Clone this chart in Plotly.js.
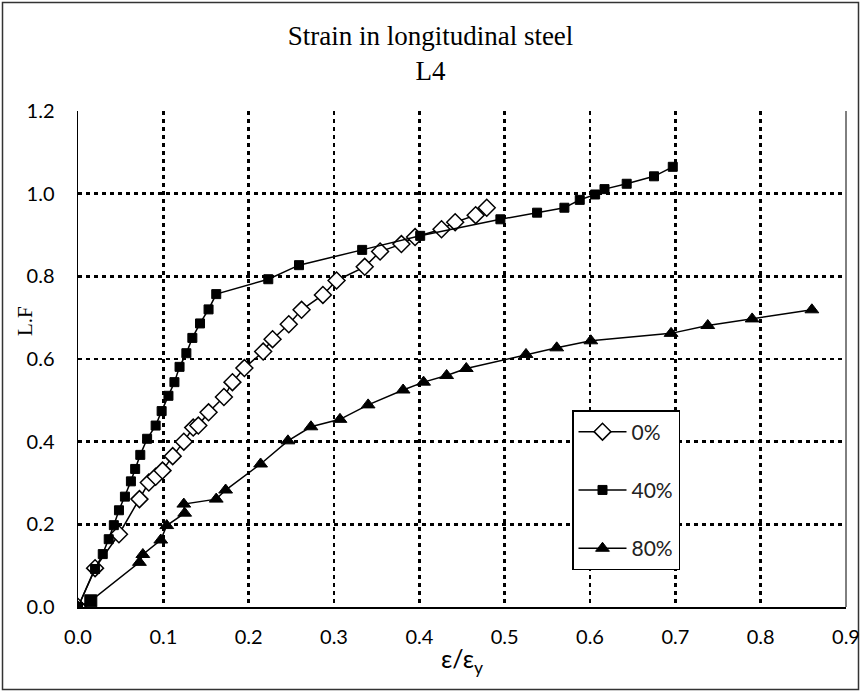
<!DOCTYPE html>
<html>
<head>
<meta charset="utf-8">
<script src="https://cdn.plot.ly/plotly-3.0.1.min.js"></script>
<style>html,body{margin:0;padding:0;background:#fff;}#chart{width:861px;height:692px;}</style>
</head>
<body>
<div id="chart"></div>
<script>
// ---- data ----
const seriesNames = ["0%", "40%", "80%"];

const x0 = [0, 0.020, 0.048, 0.072, 0.083, 0.091, 0.099, 0.111, 0.124, 0.135, 0.141, 0.153, 0.171, 0.181, 0.195, 0.217, 0.228, 0.247, 0.262, 0.287, 0.303, 0.336, 0.354, 0.379, 0.395, 0.426, 0.442, 0.466, 0.479];
const y0 = [0, 0.094, 0.176, 0.261, 0.301, 0.315, 0.330, 0.365, 0.400, 0.434, 0.439, 0.471, 0.508, 0.544, 0.578, 0.618, 0.648, 0.684, 0.719, 0.755, 0.790, 0.823, 0.860, 0.878, 0.895, 0.914, 0.931, 0.948, 0.966];

const x40 = [0, 0.020, 0.029, 0.036, 0.042, 0.048, 0.055, 0.062, 0.067, 0.073, 0.081, 0.091, 0.098, 0.106, 0.113, 0.119, 0.127, 0.134, 0.143, 0.153, 0.162, 0.223, 0.259, 0.333, 0.401, 0.495, 0.538, 0.570, 0.588, 0.606, 0.617, 0.643, 0.675, 0.697];
const y40 = [0, 0.092, 0.128, 0.164, 0.198, 0.234, 0.267, 0.304, 0.334, 0.368, 0.407, 0.439, 0.474, 0.511, 0.544, 0.581, 0.614, 0.651, 0.686, 0.720, 0.757, 0.793, 0.827, 0.864, 0.898, 0.938, 0.954, 0.966, 0.985, 0.998, 1.011, 1.024, 1.042, 1.065];

const x80 = [0, 0.015, 0.072, 0.076, 0.097, 0.104, 0.125, 0.124, 0.162, 0.173, 0.214, 0.246, 0.273, 0.307, 0.340, 0.381, 0.405, 0.432, 0.455, 0.525, 0.561, 0.601, 0.695, 0.738, 0.790, 0.860];
const y80 = [0, 0.015, 0.108, 0.127, 0.162, 0.197, 0.227, 0.249, 0.261, 0.283, 0.346, 0.402, 0.436, 0.454, 0.489, 0.525, 0.544, 0.560, 0.577, 0.611, 0.627, 0.644, 0.662, 0.681, 0.697, 0.719];

const xTicks = [0, 0.1, 0.2, 0.3, 0.4, 0.5, 0.6, 0.7, 0.8, 0.9];
const yTicks = [0, 0.2, 0.4, 0.6, 0.8, 1.0, 1.2];

const chartTitle = "Strain in longitudinal steel<br>L4";
const xTitle = "ε/ε<sub>y</sub>";
const yTitle = "L.F";

// ---- layout geometry ----
const W = 861, H = 692;
const M = {l: 78, r: 15, t: 111, b: 85};
const pw = W - M.l - M.r, ph = H - M.t - M.b;
const px = v => (v - M.l) / pw;
const py = v => (H - M.b - v) / ph;

const sans = "Lato, 'DejaVu Sans', sans-serif";
const serif = "'Liberation Serif', 'Times New Roman', serif";
const tickFont = {family: sans, size: 20, color: "#000"};
const lineStyle = {color: "#000", width: 1.5};

// 80% series: second point is drawn with a square in the source
const sym80 = x80.map((v, i) => i === 1 ? "square" : "triangle-up");

const traces = [
  {x: x0, y: y0, name: seriesNames[0], type: "scatter", mode: "lines+markers",
   line: lineStyle, legendgroup: "a",
   marker: {symbol: "diamond", size: 13, color: "#fff", opacity: 1, line: {color: "#000", width: 1.5}}},
  {x: x40, y: y40, name: seriesNames[1], type: "scatter", mode: "lines+markers",
   line: lineStyle, legendgroup: "b",
   marker: {symbol: "square", size: 9, color: "#000", opacity: 1, line: {color: "#000", width: 1}}},
  {x: x80, y: y80, name: seriesNames[2], type: "scatter", mode: "lines+markers",
   line: lineStyle, legendgroup: "c",
   marker: {symbol: sym80, size: 12, color: "#000", opacity: 1, line: {color: "#000", width: 1}}}
];

const layout = {
  width: W, height: H,
  margin: M,
  paper_bgcolor: "#fff", plot_bgcolor: "#fff",
  showlegend: true,
  title: {
    text: chartTitle,
    font: {family: serif, size: 27, color: "#000"},
    x: 0.5, xref: "container", xanchor: "center",
    y: 1 - 45 / H, yref: "container", yanchor: "top"
  },
  xaxis: {
    range: [0, 0.9], tickmode: "array", tickvals: xTicks,
    tickformat: ".1f", tickfont: tickFont,
    showgrid: true, gridcolor: "#000", gridwidth: 2.5, griddash: "4px,4px",
    zeroline: false, showline: true, linecolor: "#000", linewidth: 1.5,
    ticks: "", ticklabelstandoff: 11,
    title: {text: xTitle, font: {family: sans, size: 25, color: "#000"}, standoff: 4}
  },
  yaxis: {
    range: [0, 1.2], tickmode: "array", tickvals: yTicks,
    tickformat: ".1f", tickfont: tickFont,
    showgrid: true, gridcolor: "#000", gridwidth: 2.5, griddash: "4px,4px",
    zeroline: false, showline: true, linecolor: "#000", linewidth: 1.5,
    ticks: "", ticklabelstandoff: 18
  },
  annotations: [
    {text: yTitle, textangle: -90, xref: "paper", yref: "paper",
     x: px(25), y: py(321), xanchor: "center", yanchor: "middle", showarrow: false,
     font: {family: serif, size: 21, color: "#000"}}
  ],
  legend: {
    x: px(572), y: py(410), xanchor: "left", yanchor: "top",
    bgcolor: "#fff", bordercolor: "#000", borderwidth: 1.5,
    font: {family: sans, size: 21, color: "#222"},
    tracegroupgap: 28, itemwidth: 48
  },
  shapes: [
    {type: "rect", xref: "paper", yref: "paper",
     x0: px(2.5), x1: px(858.5), y0: py(689.5), y1: py(2.5),
     line: {color: "#333", width: 1.5}, fillcolor: "rgba(0,0,0,0)", layer: "below"},
    {type: "line", xref: "paper", yref: "paper", x0: 1, x1: 1, y0: 0, y1: 1,
     line: {color: "#000", width: 1}}
  ]
};

Plotly.newPlot("chart", traces, layout, {displayModeBar: false, staticPlot: true});
</script>
</body>
</html>
